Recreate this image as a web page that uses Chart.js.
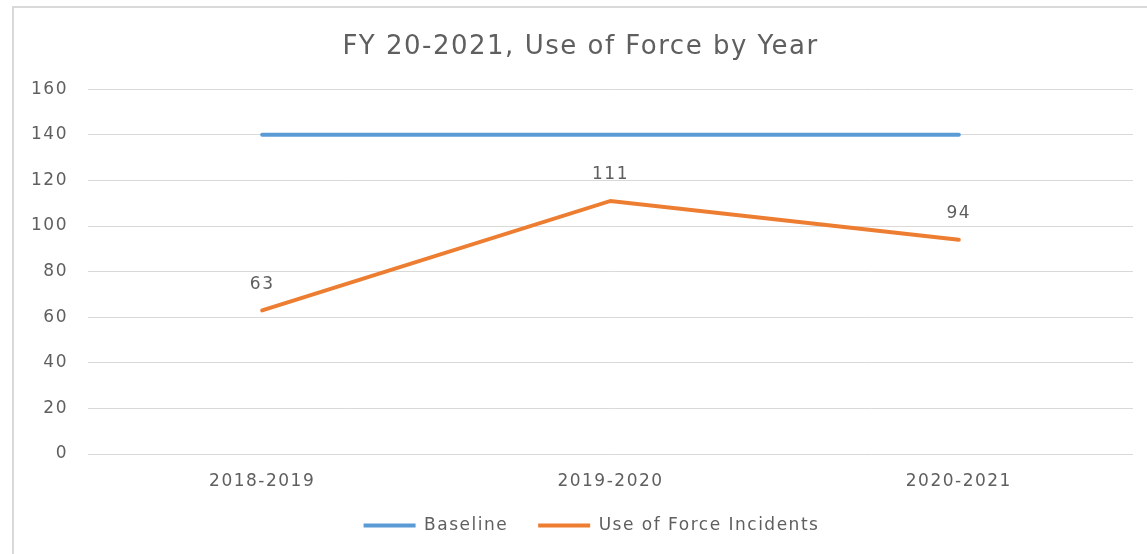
<!DOCTYPE html>
<html>
<head>
<meta charset="utf-8">
<script src="https://cdn.jsdelivr.net/npm/chart.js@4"></script>
<style>
  body { margin: 0; background: #fff; }
  #frame {
    position: absolute; left: 12px; top: 6px;
    width: 1140px; height: 552px;
    border-left: 2px solid #d9d9d9; border-top: 2px solid #d9d9d9;
  }
  canvas { display: block; }
</style>
</head>
<body>
<div id="frame"><canvas id="useOfForce" width="1135" height="548"></canvas></div>
<script>
var years = ["2018-2019", "2019-2020", "2020-2021"];
var baseline = [140, 140, 140];
var incidents = [63, 111, 94];
var yMin = 0, yMax = 160, yStep = 20;

var textGrey = "#5f5f5f";
var fontName = "'DejaVu Sans', sans-serif";

// slightly wider text, set before every layout pass so measuring matches drawing
var wideText = {
  id: "wideText",
  beforeUpdate: function(chart) { chart.ctx.letterSpacing = "1.5px"; },
  beforeDraw: function(chart) { chart.ctx.letterSpacing = "1.5px"; }
};

// nudge the legend a little right of the canvas centre
var legendShift = {
  id: "legendShift",
  afterLayout: function(chart) {
    chart.legend.left += 11;
    chart.legend.right += 11;
  }
};

// value labels above the incident points
var pointLabels = {
  id: "pointLabels",
  afterDatasetsDraw: function(chart) {
    var ctx = chart.ctx;
    var meta = chart.getDatasetMeta(1);
    ctx.save();
    ctx.font = "17px " + fontName;
    ctx.fillStyle = textGrey;
    ctx.textAlign = "center";
    ctx.textBaseline = "middle";
    meta.data.forEach(function(pt, i) {
      ctx.fillText(incidents[i], pt.x, pt.y - 26);
    });
    ctx.restore();
  }
};

var ctx = document.getElementById("useOfForce");
var chart = new Chart(ctx, {
  type: "line",
  data: {
    labels: years,
    datasets: [
      {
        label: "Baseline",
        data: baseline,
        borderColor: "#5B9BD5",
        backgroundColor: "#5B9BD5",
        borderWidth: 4,
        borderCapStyle: "round",
        pointRadius: 0,
        tension: 0
      },
      {
        label: "Use of Force Incidents",
        data: incidents,
        borderColor: "#ED7D31",
        backgroundColor: "#ED7D31",
        borderWidth: 4,
        borderCapStyle: "round",
        pointRadius: 0,
        tension: 0
      }
    ]
  },
  options: {
    responsive: false,
    animation: false,
    layout: { padding: { left: 14, right: 16, top: 14, bottom: 12 } },
    plugins: {
      title: {
        display: true,
        text: "FY 20-2021, Use of Force by Year",
        color: textGrey,
        font: { family: fontName, size: 26, weight: "normal" },
        padding: { top: 10, bottom: 26 }
      },
      legend: {
        position: "bottom",
        labels: {
          color: textGrey,
          font: { family: fontName, size: 17 },
          boxWidth: 52,
          boxHeight: 0,
          padding: 30
        }
      },
      tooltip: { enabled: false }
    },
    scales: {
      x: {
        offset: true,
        grid: { display: false },
        border: { display: false },
        afterFit: function(scale) { scale.height = 33; },
        ticks: {
          color: textGrey,
          font: { family: fontName, size: 17 },
          padding: 9
        }
      },
      y: {
        min: yMin,
        max: yMax,
        grid: { color: "#d9d9d9", drawTicks: false },
        border: { display: false },
        afterFit: function(scale) { scale.width = 60; },
        ticks: {
          stepSize: yStep,
          color: textGrey,
          font: { family: fontName, size: 17 },
          padding: 20
        }
      }
    }
  },
  plugins: [wideText, legendShift, pointLabels]
});
</script>
</body>
</html>
